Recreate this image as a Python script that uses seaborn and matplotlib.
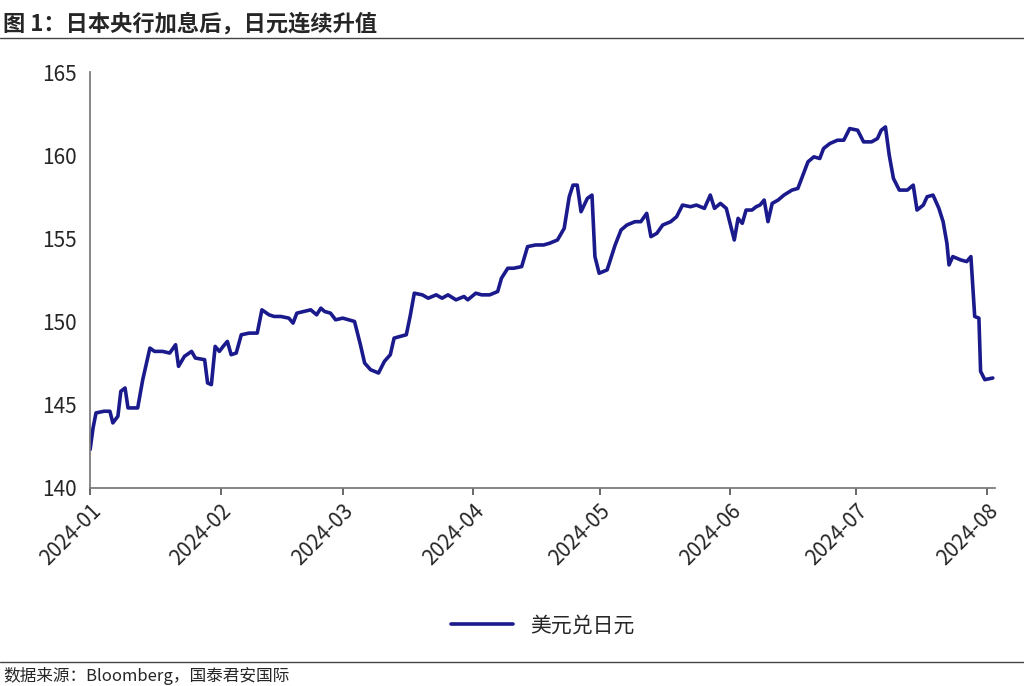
import matplotlib
matplotlib.use("Agg")
import matplotlib.pyplot as plt
import seaborn as sns
import pandas as pd
import numpy as np

sns.set_theme(style="white")
plt.rcParams['font.family'] = ['Noto Sans CJK SC', 'DejaVu Sans']

title = "图 1：日本央行加息后，日元连续升值"
source = "数据来源：Bloomberg，国泰君安国际"
series_name = "美元兑日元"
# days since 2024-01-01
days = [0,0.7,1.4,3.3,4.7,5.4,6.6,7.3,8.3,9.0,11.3,12.5,14.2,15.3,17.2,18.9,20.3,21.0,22.4,24.1,
        25.0,27.2,27.9,28.8,29.7,30.7,31.6,32.6,33.5,34.7,35.9,37.8,39.7,40.8,42.5,43.7,45.3,47.2,48.2,49.1,
        50.8,52.4,53.8,54.8,55.7,57.1,58.3,60.0,61.4,62.8,64.2,65.2,66.6,68.5,69.9,71.3,72.2,73.7,75.1,76.0,
        77.0,78.9,80.3,82.2,83.6,85.0,86.9,88.8,89.7,91.6,93.0,94.9,96.8,97.7,99.2,100.6,102.5,103.9,105.8,107.7,
        109.1,111.0,112.6,113.8,114.7,115.7,116.6,118.1,119.2,119.9,120.9,122.8,124.7,126.1,127.5,129.4,130.8,132.2,133.2,134.6,
        136.0,137.9,139.3,140.7,142.6,144.0,145.9,147.3,148.3,149.7,151.1,153.0,153.9,154.9,155.8,157.2,158.2,159.1,160.1,161.0,
        162.0,163.4,164.8,166.7,168.1,169.0,170.5,171.9,173.3,174.2,175.7,177.5,179.0,180.4,182.3,183.7,185.6,187.0,187.9,188.9,
        189.8,190.8,192.2,194.1,195.5,196.4,197.9,198.8,200.2,201.6,202.6,203.5,204.0,204.9,206.8,208.2,209.2,210.1,211.1,211.5,
        212.5,214.4]
usdjpy = [142.3,143.6,144.5,144.6,144.6,143.9,144.3,145.8,146.0,144.8,144.8,146.5,148.4,148.2,148.2,148.1,148.6,147.3,147.9,148.2,
          147.8,147.7,146.3,146.2,148.5,148.2,148.5,148.8,148.0,148.1,149.2,149.3,149.3,150.7,150.4,150.3,150.3,150.2,149.9,150.5,
          150.6,150.7,150.4,150.8,150.6,150.5,150.1,150.2,150.1,150.0,148.6,147.5,147.1,146.9,147.6,148.0,149.0,149.1,149.2,150.3,
          151.7,151.6,151.4,151.6,151.4,151.6,151.3,151.5,151.3,151.7,151.6,151.6,151.8,152.6,153.2,153.2,153.3,154.5,154.6,154.6,
          154.7,154.9,155.6,157.5,158.2,158.2,156.6,157.4,157.6,153.9,152.9,153.1,154.6,155.5,155.8,156.0,156.0,156.5,155.1,155.3,
          155.8,156.0,156.3,157.0,156.9,157.0,156.8,157.6,156.8,157.1,156.8,154.9,156.2,155.9,156.7,156.7,156.9,157.0,157.3,156.0,
          157.1,157.3,157.6,157.9,158.0,158.6,159.6,159.9,159.8,160.4,160.7,160.9,160.9,161.6,161.5,160.8,160.8,161.0,161.5,161.7,
          160.0,158.6,157.9,157.9,158.2,156.7,157.0,157.5,157.6,156.8,156.0,154.7,153.4,153.9,153.7,153.6,153.9,150.3,150.2,147.0,
          146.5,146.6]
df = pd.DataFrame({"date": pd.Timestamp("2024-01-01") + pd.to_timedelta(np.array(days), unit="D"),
                   "value": usdjpy, "series": series_name})

fig = plt.figure(figsize=(10.24, 6.86), dpi=100)
ax = fig.add_axes([0.088, 0.289, 0.884, 0.606])
sns.lineplot(data=df, x="date", y="value", hue="series", palette=["#1a1a8c"], linewidth=2.6, ax=ax)
ax.set_ylim(140, 165)
ax.set_yticks([140, 145, 150, 155, 160, 165])
ax.set_xlim(pd.Timestamp("2024-01-01"), pd.Timestamp("2024-08-03"))
ticks = pd.date_range("2024-01-01", "2024-08-01", freq="MS")
ax.set_xticks(ticks)
ax.set_xticklabels([t.strftime("%Y-%m") for t in ticks], rotation=45, ha="right", rotation_mode="anchor", fontsize=15)
ax.tick_params(axis="y", labelsize=15, left=False)
ax.tick_params(axis="x", bottom=True, length=5, color="#555")
ax.set_xlabel(""); ax.set_ylabel("")
for s in ["top", "right"]:
    ax.spines[s].set_visible(False)
for s in ["left", "bottom"]:
    ax.spines[s].set_color("#777")
ax.legend(loc="upper center", bbox_to_anchor=(0.5, -0.26), frameon=False, fontsize=15, handlelength=3)

fig.text(0.003, 0.965, title, fontsize=16, fontweight="bold", ha="left", va="center")
fig.add_artist(plt.Line2D([0, 1], [0.944, 0.944], color="#444", lw=1))
fig.add_artist(plt.Line2D([0, 1], [0.035, 0.035], color="#444", lw=1))
fig.text(0.003, 0.015, source, fontsize=12, style="italic", ha="left", va="center")
fig.savefig("out.png", dpi=100)
